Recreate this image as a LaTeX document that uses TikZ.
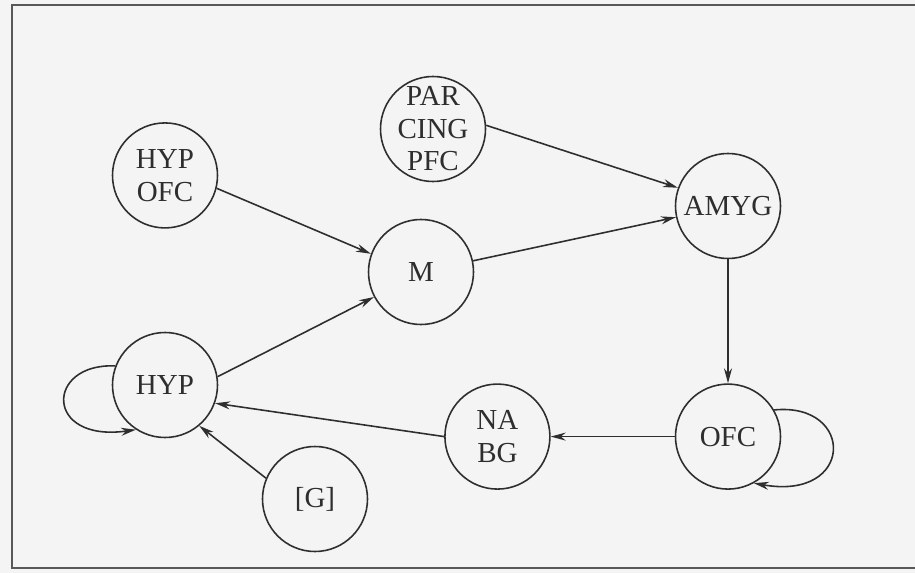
\documentclass[tikz,border=0pt]{standalone}
\usepackage{fontspec}
\setmainfont{Liberation Serif}
\usepackage{tikz}
\usetikzlibrary{arrows.meta,positioning}
\usepackage{xcolor}
\definecolor{inkGray}{HTML}{2E2E2E}
\definecolor{paperGray}{HTML}{F4F4F4}

\begin{document}
\begin{tikzpicture}[
    region/.style={circle, draw=inkGray, line width=0.9pt, minimum size=2.1cm,
                   inner sep=0pt, align=center, text=inkGray,
                   font=\fontsize{16.5}{18.5}\selectfont},
    arrow/.style={-{Stealth[length=3mm, width=1.6mm]}, line width=0.9pt, draw=inkGray},
]
    \useasboundingbox (0,0) rectangle (18.3,-11.46);
    \fill[paperGray] (0,0) rectangle (18.3,-11.46);
    \draw[inkGray!80, line width=1pt] (18.3,-0.1) -- (0.24,-0.1) -- (0.24,-11.36) -- (18.3,-11.36);

    \node[region] (hyp) at (3.3,-7.7) {HYP};
    \node[region, above=2.06cm of hyp] (hypofc) {HYP\\OFC};
    \node[region] (m) at (8.42,-5.44) {M};
    \node[region, inner sep=-2pt] (par) at (8.66,-2.58) {PAR\\CING\\PFC};
    \node[region] (amyg) at (14.56,-4.12) {AMYG};
    \node[region, below=2.48cm of amyg] (ofc) {OFC};
    \node[region, left=2.48cm of ofc] (nabg) {NA\\BG};
    \node[region] (g) at (6.3,-9.98) {[G]};

    \draw[arrow] (hypofc.-14) -- (m.160);
    \draw[arrow] (par.4) -- (amyg.160);
    \draw[arrow] (m) -- (amyg);
    \draw[arrow] (amyg) -- (ofc);
    \draw[arrow] (ofc) -- (nabg);
    \draw[arrow] (nabg.west) -- (hyp.-20);
    \draw[arrow] (hyp.9) -- (m.208);
    \draw[arrow] (g.157) -- (hyp.-50);
    \draw[arrow] (hyp.159) .. controls +(-1.4,0.06) and +(-1.84,-0.26) .. (hyp.237);
    \draw[arrow] (ofc.30) .. controls +(1.62,0.16) and +(2.02,-0.36) .. (ofc.-61);
\end{tikzpicture}
\end{document}
